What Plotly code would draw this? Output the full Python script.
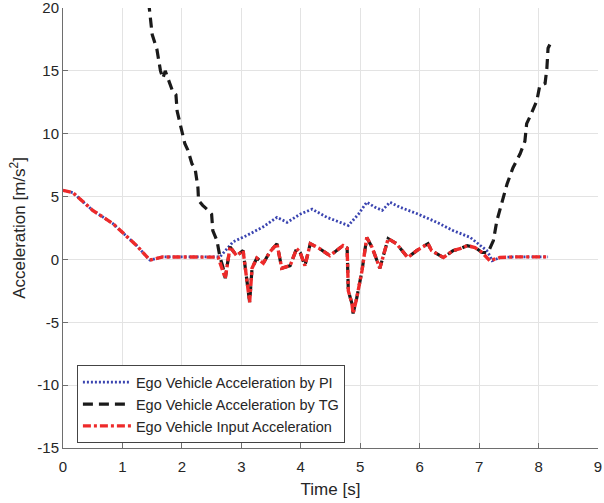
import plotly.graph_objects as go

# ---- Data ----
# Ego vehicle input acceleration (red, dash-dot)
input_t = [0, 0.17, 0.5, 0.84, 1.24, 1.46, 1.68, 2.0, 2.3, 2.61, 2.73, 2.81, 2.92, 3.03, 3.14,
           3.18, 3.26, 3.37, 3.48, 3.6, 3.68, 3.82, 3.93, 3.99, 4.07, 4.16, 4.32, 4.49, 4.71,
           4.78, 4.8, 4.86, 4.88, 4.94, 5.03, 5.11, 5.2, 5.33, 5.47, 5.61, 5.8, 5.95, 6.14,
           6.2, 6.4, 6.56, 6.68, 6.8, 6.93, 7.05, 7.18, 7.35, 7.6, 8.16]
input_a = [5.5, 5.3, 3.9, 2.85, 1.1, -0.05, 0.2, 0.2, 0.2, 0.18, -1.5, 1.0, 0.3, 0.7, -3.4,
           -0.7, 0.1, -0.3, 0.6, 1.25, -0.7, -0.5, 0.85, 0.55, -0.5, 1.25, 0.85, 0.3, 1.1,
           0.9, -2.5, -3.5, -4.3, -3.1, -0.9, 1.75, 0.95, -0.7, 1.65, 1.25, 0.15, 0.7, 1.25,
           0.7, 0.15, 0.7, 0.85, 1.1, 0.95, 0.55, -0.1, 0.15, 0.2, 0.2]

# Ego vehicle acceleration by PI (blue, dotted)
pi_t = [0, 0.17, 0.5, 0.84, 1.24, 1.46, 1.68, 2.0, 2.3, 2.64, 2.86, 3.09, 3.37, 3.6, 3.77,
        3.99, 4.19, 4.44, 4.8, 4.97, 5.11, 5.25, 5.37, 5.5, 5.67, 5.95, 6.29, 6.56, 6.85,
        7.02, 7.13, 7.18, 7.22, 7.35, 7.6, 8.16]
pi_a = [5.5, 5.3, 3.9, 2.85, 1.1, -0.05, 0.2, 0.2, 0.2, 0.2, 1.4, 1.9, 2.6, 3.35, 2.95,
        3.6, 4.0, 3.35, 2.7, 3.6, 4.55, 4.15, 3.9, 4.55, 4.15, 3.65, 2.95, 2.3, 1.75,
        1.1, 0.7, 0.3, -0.1, 0.15, 0.2, 0.2]

# Ego vehicle acceleration by TG (black, dashed): falling part, rising part
tg_fall_t = [1.44, 1.5, 1.58, 1.64, 1.68, 1.72, 1.85, 1.9, 1.92, 1.98, 2.05, 2.1, 2.17, 2.22,
             2.27, 2.28, 2.35, 2.42, 2.5, 2.52, 2.59, 2.64, 2.69, 2.73]
tg_fall_a = [20.5, 17.9, 16.7, 15.0, 14.4, 15.0, 13.3, 13.1, 11.8, 10.5, 9.2, 8.7, 7.6, 7.3,
             5.7, 4.7, 4.3, 4.0, 3.6, 2.3, 1.5, 0.2, -0.6, -1.5]
tg_rise_t = [7.15, 7.24, 7.3, 7.4, 7.47, 7.57, 7.69, 7.77, 7.8, 7.86, 7.97, 8.02, 8.11, 8.14,
             8.16, 8.19]
tg_rise_a = [0.55, 1.5, 3.1, 4.7, 6.0, 7.3, 8.4, 9.4, 10.8, 11.4, 12.6, 13.8, 14.0, 15.2,
             16.8, 17.1]

x_ticks = [0, 1, 2, 3, 4, 5, 6, 7, 8, 9]
y_ticks = [-15, -10, -5, 0, 5, 10, 15, 20]
y_tick_labels = ["-15", "-10", "-5", "0", "5", "10", "15", "20"]

# TG follows the input between the falling and rising parts
mid = [(t, a) for t, a in zip(input_t, input_a) if 2.73 < t <= 7.05]
tg_t = tg_fall_t + [m[0] for m in mid] + tg_rise_t
tg_a = tg_fall_a + [m[1] for m in mid] + tg_rise_a

fig = go.Figure()
fig.add_trace(go.Scatter(x=pi_t, y=pi_a, mode="lines",
                         name="Ego Vehicle Acceleration by PI",
                         line=dict(color="#3a44b0", width=2.8, dash="2px,2px")))
fig.add_trace(go.Scatter(x=tg_t, y=tg_a, mode="lines",
                         name="Ego Vehicle Acceleration by TG",
                         line=dict(color="#1a1a1a", width=3.2, dash="10px,6px")))
fig.add_trace(go.Scatter(x=input_t, y=input_a, mode="lines",
                         name="Ego Vehicle Input Acceleration",
                         line=dict(color="#ee2a2a", width=3.4, dash="8px,3px,3px,3px")))

axis_common = dict(showgrid=True, gridcolor="#e3e3e3", gridwidth=1,
                   showline=True, linecolor="#6e6e6e", linewidth=1,
                   ticks="inside", ticklen=5, tickcolor="#6e6e6e",
                   tickfont=dict(family="Liberation Sans, Arial", size=15, color="#262626"),
                   ticklabeloverflow="allow",
                   zeroline=False, mirror=False, automargin=False)

fig.update_layout(
    width=604, height=503,
    margin=dict(l=63, r=6, t=8, b=55),
    paper_bgcolor="white", plot_bgcolor="white",
    font=dict(family="Liberation Sans, Arial", color="#262626"),
    xaxis=dict(range=[0, 9.0001], tickvals=x_ticks, ticklabelstandoff=5,
               title=dict(text="Time [s]", font=dict(size=17), standoff=9),
               **axis_common),
    yaxis=dict(range=[-15, 20.0001], tickvals=y_ticks, ticktext=y_tick_labels,
               title=dict(text="Acceleration [m/s<sup>2</sup>]", font=dict(size=17), standoff=7),
               **axis_common),
    legend=dict(x=0.026, y=0.188, xanchor="left", yanchor="top",
                bgcolor="white", bordercolor="#444", borderwidth=1,
                font=dict(size=14.5, color="#262626"), itemwidth=48,
                tracegroupgap=0),
    showlegend=True,
)

fig.write_html("out.html", config={"displayModeBar": False},
               post_script="document.body.style.margin='0';document.body.style.overflow='hidden';")
